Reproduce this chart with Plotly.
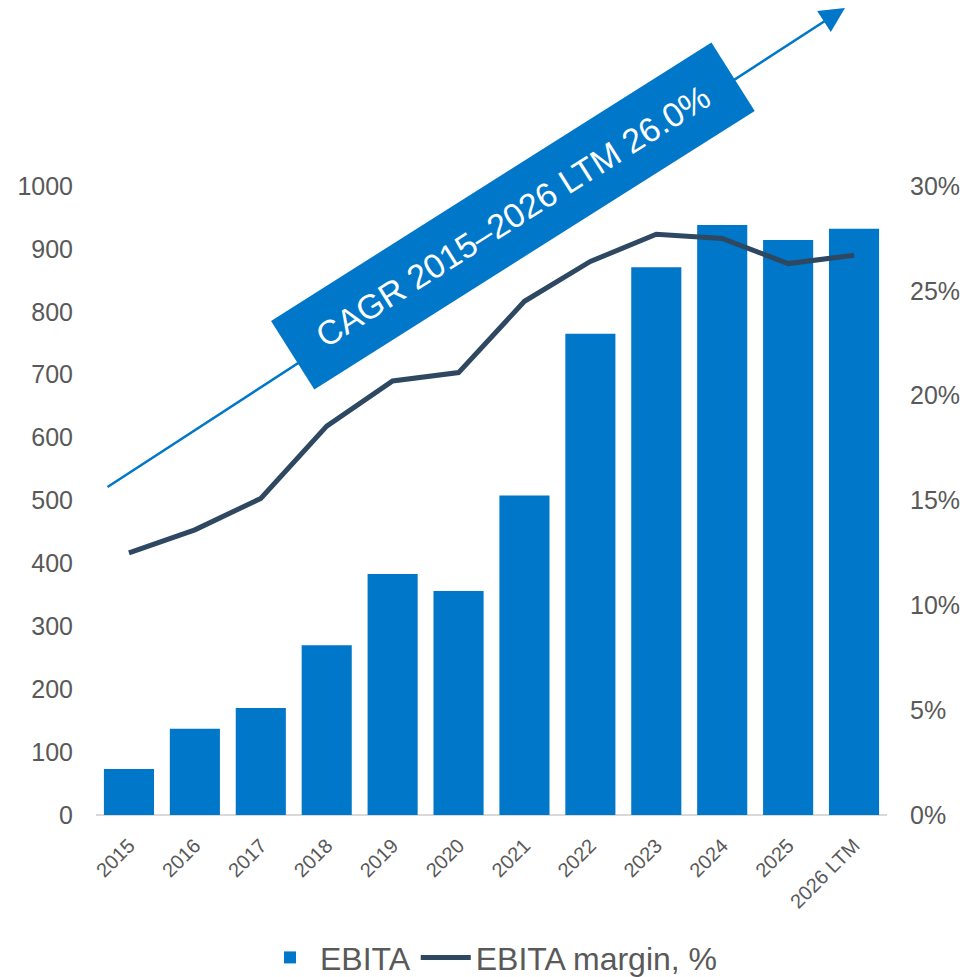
import plotly.graph_objects as go

categories = ["2015", "2016", "2017", "2018", "2019", "2020", "2021", "2022",
              "2023", "2024", "2025", "2026 LTM"]
ebita = [73, 137, 170, 270, 383, 356, 508, 765, 871, 938, 914, 932]
margin_pct = [12.5, 13.6, 15.1, 18.55, 20.7, 21.1, 24.5, 26.4, 27.7, 27.5, 26.3, 26.7]
left_ticks = [0, 100, 200, 300, 400, 500, 600, 700, 800, 900, 1000]
right_ticks = [0, 5, 10, 15, 20, 25, 30]
right_labels = [f"{v}%" for v in right_ticks]
cagr_text = "CAGR 2015–2026 LTM 26.0%"

FONT = "Liberation Sans, Arial, sans-serif"
GREY = "#595959"
BLUE = "#0077C8"
DARK = "#2F4862"

fig = go.Figure()
fig.add_trace(go.Bar(x=categories, y=ebita, name="EBITA", marker_color=BLUE,
                     marker_line_width=0))
fig.add_trace(go.Scatter(x=categories, y=margin_pct, name="EBITA margin, %",
                         mode="lines", line=dict(color=DARK, width=5),
                         yaxis="y2"))

# CAGR arrow
fig.add_annotation(x=10.862, y=1283, ax=-0.348, ay=520, xref="x", yref="y",
                   axref="x", ayref="y", text="", showarrow=True,
                   arrowhead=2, arrowsize=2.0, arrowwidth=2.5, arrowcolor=BLUE,
                   standoff=0, startstandoff=0)
# CAGR label box
fig.add_annotation(x=0.527, y=0.952, xref="paper", yref="paper",
                   xanchor="center", yanchor="middle", text=cagr_text,
                   showarrow=False, textangle=-32.3, bgcolor=BLUE,
                   borderpad=21, width=478, height=38,
                   font=dict(family=FONT, size=34, color="white"))

fig.update_layout(
    width=967, height=969,
    margin=dict(l=88, r=88, t=178, b=162),
    paper_bgcolor="white", plot_bgcolor="white",
    bargap=0.24,
    showlegend=True,
    legend=dict(orientation="h", xref="paper", x=0.5, xanchor="center",
                yref="container", y=0.02, yanchor="middle",
                font=dict(family=FONT, size=32, color=GREY),
                itemwidth=50, tracegroupgap=0),
    font=dict(family=FONT, color=GREY),
    xaxis=dict(type="category", tickangle=-45, showgrid=False, automargin=False,
               tickfont=dict(family=FONT, size=20, color=GREY),
               ticklabelstandoff=14,
               showline=False, zeroline=False, ticks=""),
    yaxis=dict(range=[0, 1000], tickvals=left_ticks, showgrid=False,
               automargin=False,
               zeroline=True, zerolinecolor="#D9D9D9", zerolinewidth=2,
               tickfont=dict(family=FONT, size=25, color=GREY),
               ticklabelstandoff=22, ticks=""),
    yaxis2=dict(range=[0, 30], tickvals=right_ticks, ticktext=right_labels,
                overlaying="y", side="right", showgrid=False, zeroline=False,
                automargin=False,
                tickfont=dict(family=FONT, size=25, color=GREY),
                ticklabelstandoff=22, ticks=""),
)

fig.write_html("out.html")
